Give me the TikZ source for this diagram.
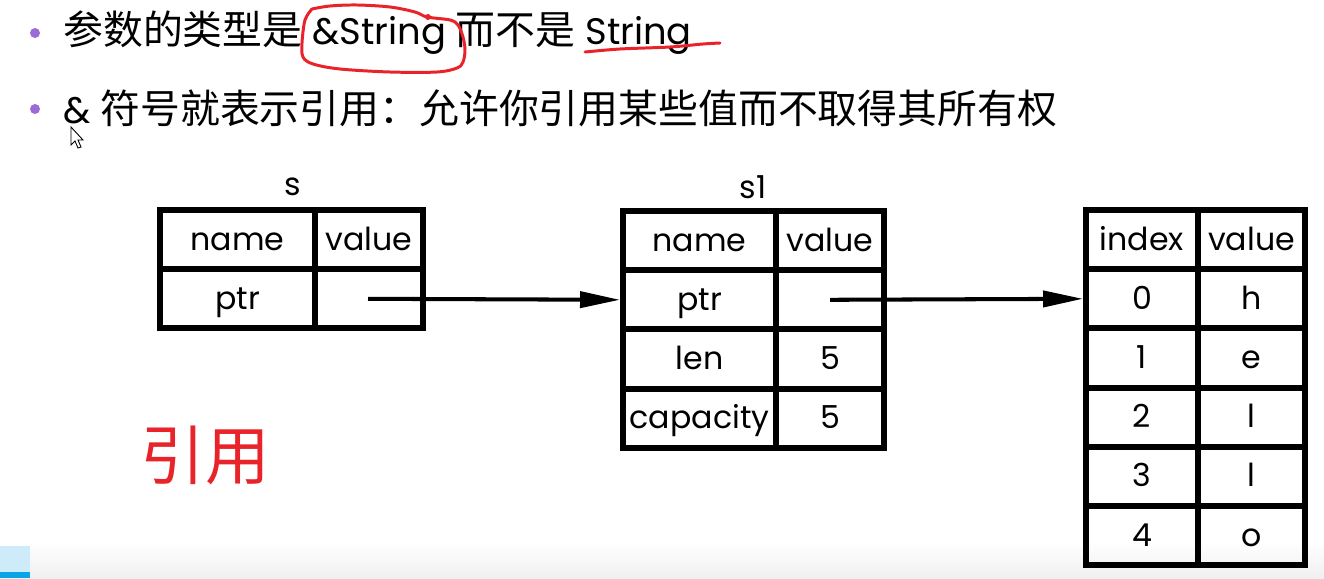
\documentclass[tikz,border=0pt]{standalone}
\usepackage{fontspec}
\usepackage{xcolor}
\usepackage{tikz}
\usetikzlibrary{arrows.meta}
\setmainfont{Poppins}
\newfontfamily\cjk[Scale=1.08]{Noto Sans CJK SC}
\definecolor{slred}{HTML}{E8232A}
\definecolor{slpurple}{HTML}{9B6BD6}
\definecolor{slblue}{HTML}{0AA5E6}
\definecolor{slsky}{HTML}{CDEBF8}

\begin{document}
\begin{tikzpicture}[x=0.2mm, y=-0.2mm,
  cell/.style={draw, line width=3.4pt, inner sep=0pt, minimum height=11.84mm, text height=14pt, text depth=2pt, font=\fontsize{18}{20}\selectfont},
  tag/.style={inner sep=0pt, font=\fontsize{18}{20}\selectfont},
  ptrarrow/.style={line width=2.3pt, -{Triangle[length=8mm, width=3.2mm]}},
  line/.style={inner sep=0pt, anchor=west, font=\fontsize{21}{24}\selectfont},
  bullet/.style={circle, fill=slpurple, inner sep=0pt, minimum size=2mm},
  ink/.style={draw=slred, line width=1.7pt, line cap=round, line join=round}]
  \useasboundingbox (0,0) rectangle (1324,578);
  \shade[top color=white, bottom color=black!6] (0,542) rectangle (1324,578);

  % slide text
  \node[bullet] (b1) at (35,33) {};
  \node[bullet] (b2) at (35,109) {};
  \node[line] (l1) at (63,33) {{\cjk 参数的类型是} \&String {\cjk 而不是} String};
  \node[line] (l2) at (63,108) {\& {\cjk 符号就表示引用：允许你引用某些值而不取得其所有权}};

  % red pen marks
  \draw[ink] plot[smooth, tension=0.55] coordinates {(312,9) (330,6) (357,5) (390,7) (415,12) (427,17) (450,20) (458,25) (463,37) (465,50) (463,62) (457,68) (437,72) (390,72) (340,69) (313,64) (303,57) (302,43) (305,20) (312,9)};
  \fill[slred] (428,17) circle (3);
  \draw[ink] plot[smooth] coordinates {(585,52) (620,49) (670,47) (703,44) (720,43)};
  \node[text=slred, inner sep=0pt, font=\cjk\fontsize{34}{38}\selectfont] (ref) at (205,455) {引用};

  % s
  \node[tag] (slabel) at (293,187) {s};
  \node[cell, minimum width=31mm] (sname) at (237.5,239.6) {name};
  \node[cell, minimum width=21.6mm] (svalue) at (369,239.6) {value};
  \node[cell, minimum width=31mm] (sptr) at (237.5,298.8) {ptr};
  \node[cell, minimum width=21.6mm] (sptrv) at (369,298.8) {};

  % s1
  \node[tag] (s1label) at (753,187) {s1};
  \node[cell, minimum width=30.6mm] (s1name) at (699.5,240.6) {name};
  \node[cell, minimum width=21.6mm] (s1value) at (830,240.6) {value};
  \node[cell, minimum width=30.6mm] (s1ptr) at (699.5,299.8) {ptr};
  \node[cell, minimum width=21.6mm] (s1ptrv) at (830,299.8) {};
  \node[cell, minimum width=30.6mm] (s1len) at (699.5,359) {len};
  \node[cell, minimum width=21.6mm] (s1lenv) at (830,359) {5};
  \node[cell, minimum width=30.6mm] (s1cap) at (699.5,418.2) {capacity};
  \node[cell, minimum width=21.6mm] (s1capv) at (830,418.2) {5};

  % heap
  \node[cell, minimum width=22.4mm] (hindex) at (1142,239.6) {index};
  \node[cell, minimum width=21.4mm] (hvalue) at (1251.5,239.6) {value};
  \node[cell, minimum width=22.4mm] (h0) at (1142,298.8) {0};
  \node[cell, minimum width=21.4mm] (h0v) at (1251.5,298.8) {h};
  \node[cell, minimum width=22.4mm] (h1) at (1142,358) {1};
  \node[cell, minimum width=21.4mm] (h1v) at (1251.5,358) {e};
  \node[cell, minimum width=22.4mm] (h2) at (1142,417.2) {2};
  \node[cell, minimum width=21.4mm] (h2v) at (1251.5,417.2) {l};
  \node[cell, minimum width=22.4mm] (h3) at (1142,476.4) {3};
  \node[cell, minimum width=21.4mm] (h3v) at (1251.5,476.4) {l};
  \node[cell, minimum width=22.4mm] (h4) at (1142,535.6) {4};
  \node[cell, minimum width=21.4mm] (h4v) at (1251.5,535.6) {o};

  % pointers
  \coordinate (sfrom) at (368,298.8);
  \coordinate (s1from) at (830,299.8);
  \draw[ptrarrow] (sfrom) -- (s1ptr.west);
  \draw[ptrarrow] (s1from) -- (h0.west);

  % screen bits
  \fill[slsky] (0,546) rectangle (30,572);
  \fill[slblue] (0,572) rectangle (30,578);
  \draw[fill=white, line width=0.5pt] (71,127) -- (71,145) -- (75,141) -- (78,148) -- (81,147) -- (78,140) -- (83,140) -- cycle;
\end{tikzpicture}
\end{document}
